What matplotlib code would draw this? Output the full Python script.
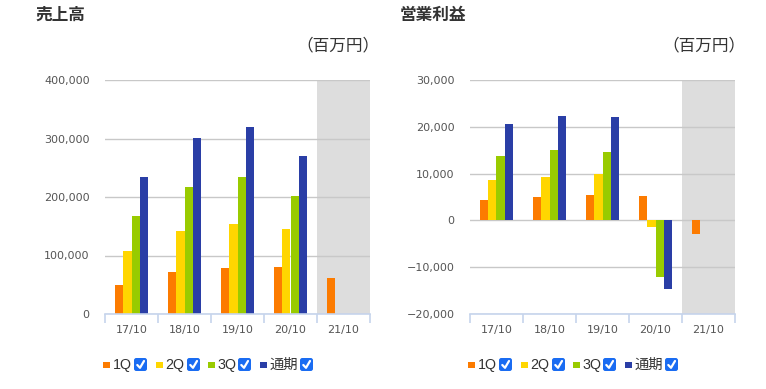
import numpy as np
import matplotlib
matplotlib.use("Agg")
import matplotlib.pyplot as plt
from matplotlib.patches import Rectangle, FancyBboxPatch
from matplotlib.lines import Line2D
from matplotlib.ticker import FuncFormatter

categories = ["17/10", "18/10", "19/10", "20/10", "21/10"]
series_names = ["1Q", "2Q", "3Q", "通期"]
colors = ["#fc7b00", "#ffd600", "#99cb00", "#2a3ea6"]

sales_1q = [49800, 72100, 79000, 80700, 61800]
sales_2q = [108200, 142500, 154500, 146000, np.nan]
sales_3q = [168300, 216400, 233500, 200900, np.nan]
sales_fy = [233500, 300500, 319400, 269600, np.nan]

op_1q = [4330, 4960, 5390, 5180, -2840]
op_2q = [8580, 9220, 9860, -1350, np.nan]
op_3q = [13690, 14960, 14540, -11990, np.nan]
op_fy = [20500, 22410, 22200, -14750, np.nan]

W, H = 766, 389
fig = plt.figure(figsize=(W / 100, H / 100), dpi=100)
JP = ["Noto Sans CJK JP", "DejaVu Sans"]
LEG = ["Liberation Sans", "Noto Sans CJK JP"]


def px(x, y):
    return x / W, 1 - y / H


def draw_chart(x0, title, data, ylim, yticks):
    ax = fig.add_axes([x0 / W, (H - 314) / H, 265 / W, 234 / H])
    n = len(categories)
    idx = np.arange(n)
    bw = 0.155
    ax.axvspan(n - 1.5, n - 0.5, color="#dddddd", zorder=0, lw=0)
    for k, vals in enumerate(data):
        ax.bar(idx + (k - 1.5) * bw, vals, width=bw, color=colors[k], zorder=2, lw=0)
    ax.set_xlim(-0.5, n - 0.5)
    ax.set_ylim(*ylim)
    ax.set_yticks(yticks)
    ax.yaxis.set_major_formatter(FuncFormatter(lambda v, p: f"{int(v):,}".replace("-", "−")))
    ax.grid(axis="y", color="#c8c8c8", lw=1, zorder=0.5)
    ax.set_axisbelow(True)
    for s in ["left", "right", "top"]:
        ax.spines[s].set_visible(False)
    ax.spines["bottom"].set_color("#c6d4ec")
    ax.spines["bottom"].set_linewidth(1.2)
    ax.set_xticks(idx)
    ax.set_xticklabels(categories)
    ax.set_xticks(np.arange(-0.5, n), minor=True)
    ax.tick_params(axis="x", which="major", length=0, pad=8, labelsize=8, labelcolor="#555555")
    ax.tick_params(axis="x", which="minor", length=6.5, width=1.2, color="#c6d4ec")
    ax.tick_params(axis="y", length=0, pad=11, labelsize=8, labelcolor="#555555")
    fig.text(*px(x0 - 70, 15), title, family=JP, fontsize=12, fontweight="bold",
             color="#333333", va="center", ha="left")
    fig.text(*px(x0 + 275, 46), "（百万円）", family=JP, fontsize=12, color="#333333",
             va="center", ha="right")
    # legend
    lx = x0 - 2
    offs = [0, 53, 105, 157]
    cxs = [31, 31, 30, 40]
    for k, name in enumerate(series_names):
        sx = lx + offs[k]
        fig.add_artist(Rectangle(px(sx, 368), 7 / W, 6.5 / H, transform=fig.transFigure,
                                 color=colors[k], lw=0))
        fig.text(*px(sx + 9.5, 369), name, family=LEG, fontsize=10.3, color="#333333",
                 va="baseline", ha="left")
        cx = sx + cxs[k]
        fig.add_artist(FancyBboxPatch(px(cx, 371), 13 / W, 13 / H,
                                      boxstyle="round,pad=0,rounding_size=0.003",
                                      transform=fig.transFigure, color="#1a6cf2", lw=0,
                                      mutation_aspect=W / H))
        xs = [cx + 3.3, cx + 6, cx + 10]
        ys = [365, 367.8, 361]
        fig.add_artist(Line2D([x / W for x in xs], [1 - y / H for y in ys],
                              transform=fig.transFigure, color="white", lw=1.6,
                              solid_capstyle="round", solid_joinstyle="round"))
    return ax


draw_chart(105, "売上高", [sales_1q, sales_2q, sales_3q, sales_fy],
           (0, 400000), [0, 100000, 200000, 300000, 400000])
draw_chart(470, "営業利益", [op_1q, op_2q, op_3q, op_fy],
           (-20000, 30000), [-20000, -10000, 0, 10000, 20000, 30000])

fig.savefig("out.png", dpi=100)
